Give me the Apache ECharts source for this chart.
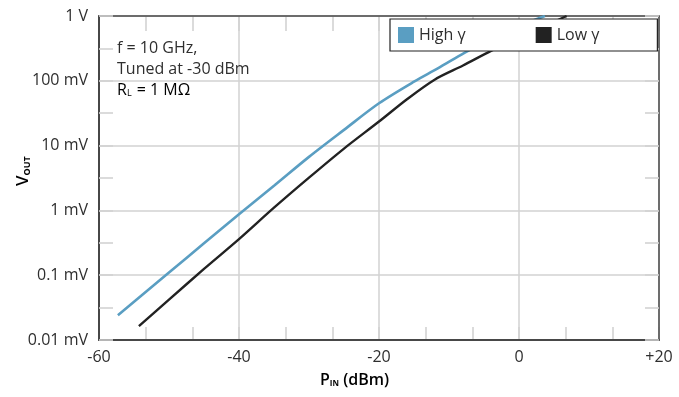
<!DOCTYPE html>
<html>
<head>
<meta charset="utf-8">
<script src="https://cdn.jsdelivr.net/npm/echarts@6/dist/echarts.min.js"></script>
<style>
  html, body { margin: 0; padding: 0; background: #fff; }
  #chart { width: 679px; height: 397px; }
</style>
</head>
<body>
<div id="chart"></div>
<script>
// input power (dBm) and detector output (mV)
const highPin = [-57.3, -50, -45, -40, -35, -30, -25, -20, -15, -11.6, -7.8, -4, 0, 3.7];
const highVout = [0.024, 0.11, 0.31, 0.87, 2.4, 6.7, 17.5, 45, 97, 155, 270, 450, 700, 1000];

const lowPin = [-54.3, -50, -45, -40, -35, -30, -25, -20, -16, -12, -8, -4, 0, 6.8];
const lowVout = [0.0164, 0.042, 0.125, 0.36, 1.1, 3.2, 9.0, 23.5, 52, 105, 172, 290, 460, 1000];

const xTicks = [-60, -40, -20, 0, 20];
const xTickLabels = ['-60', '-40', '-20', '0', '+20'];
const yTicks = [0.01, 0.1, 1, 10, 100, 1000];
const yTickLabels = ['0.01 mV', '0.1 mV', '1 mV', '10 mV', '100 mV', '1 V'];

const seriesNames = ['High \u03b3', 'Low \u03b3'];
const seriesColors = ['#5a9ec2', '#222222'];

const FONT = 'Open Sans';
const TEXT = '#2e2e2e';
const GRID = '#d2d2d2';
const FRAME = '#474747';

const pairs = (xs, ys) => xs.map((x, i) => [x, ys[i]]);

const chart = echarts.init(document.getElementById('chart'), null, { renderer: 'canvas' });

// extra y axes that only carry the half-decade inside ticks on both sides
const yTickOnly = (position, withLine) => ({
  type: 'value',
  gridIndex: 0,
  position,
  min: -2,
  max: 3,
  interval: 0.5,
  axisLine: { show: withLine, onZero: false, lineStyle: { color: FRAME, width: 1.5 } },
  axisTick: { show: true, inside: true, length: 14, lineStyle: { color: GRID, width: 1.6 } },
  axisLabel: { show: false },
  splitLine: { show: false },
});

// thin strips along the top and bottom edge: their split lines are the short x ticks
const xStripAxis = (gridIndex) => ({
  type: 'value',
  gridIndex,
  min: -60,
  max: 20,
  interval: 20 / 3,
  axisLine: { show: false },
  axisTick: { show: false },
  axisLabel: { show: false },
  splitLine: { show: true, showMinLine: false, showMaxLine: false, lineStyle: { color: GRID, width: 1.6 } },
});
const yStripAxis = (gridIndex) => ({
  type: 'value',
  gridIndex,
  min: 0,
  max: 1,
  show: false,
  splitLine: { show: false },
});

const option = {
  animation: false,
  backgroundColor: '#fff',
  textStyle: { fontFamily: FONT },
  grid: [
    { left: 99, right: 20, top: 16, bottom: 57, containLabel: false },
    { left: 99, right: 20, top: 16, height: 15, containLabel: false },
    { left: 99, right: 20, top: 327, height: 13, containLabel: false },
  ],
  legend: {
    left: 390,
    top: 19,
    icon: 'rect',
    itemWidth: 16,
    itemHeight: 16,
    itemGap: 70,
    padding: [8, 58, 8, 8],
    backgroundColor: '#fff',
    borderColor: '#222',
    borderWidth: 1.2,
    borderRadius: 0,
    textStyle: { fontFamily: FONT, fontSize: 16, color: TEXT },
    data: seriesNames,
  },
  xAxis: [
    {
      type: 'value',
      gridIndex: 0,
      position: 'bottom',
      min: -60,
      max: 20,
      interval: 20,
      axisLine: { show: true, onZero: false, lineStyle: { color: FRAME, width: 2 } },
      axisTick: { show: false },
      axisLabel: {
        margin: 9,
        fontFamily: FONT,
        fontSize: 16,
        color: TEXT,
        formatter: (v) => xTickLabels[xTicks.indexOf(v)] ?? '',
      },
      splitLine: { show: true, lineStyle: { color: GRID, width: 1.5 } },
    },
    {
      type: 'value',
      gridIndex: 0,
      position: 'top',
      min: -60,
      max: 20,
      interval: 20,
      axisLine: { show: true, onZero: false, lineStyle: { color: FRAME, width: 1.5 } },
      axisTick: { show: false },
      axisLabel: { show: false },
      splitLine: { show: false },
    },
    xStripAxis(1),
    xStripAxis(2),
  ],
  yAxis: [
    {
      type: 'log',
      gridIndex: 0,
      logBase: 10,
      position: 'left',
      min: 0.01,
      max: 1000,
      axisLine: { show: true, onZero: false, lineStyle: { color: FRAME, width: 2 } },
      axisTick: { show: false },
      axisLabel: {
        margin: 11,
        fontFamily: FONT,
        fontSize: 16,
        color: TEXT,
        formatter: (v) => {
          const i = yTicks.findIndex((t) => Math.abs(Math.log10(t) - Math.log10(v)) < 1e-6);
          return i >= 0 ? yTickLabels[i] : '';
        },
      },
      splitLine: { show: true, lineStyle: { color: GRID, width: 1.5 } },
    },
    yTickOnly('left', false),
    yTickOnly('right', true),
    yStripAxis(1),
    yStripAxis(2),
  ],
  graphic: [
    {
      type: 'text', left: 117, top: 40, z: 10,
      style: { text: 'f = 10 GHz,', font: `16px "${FONT}"`, fill: TEXT },
    },
    {
      type: 'text', left: 117, top: 61, z: 10,
      style: { text: 'Tuned at -30 dBm', font: `16px "${FONT}"`, fill: TEXT },
    },
    {
      type: 'text', left: 117, top: 82, z: 10,
      style: {
        text: '{a|R}{s|L}{a| = 1 M\u03a9}',
        rich: {
          a: { fontFamily: FONT, fontSize: 16, color: TEXT, lineHeight: 20, verticalAlign: 'bottom' },
          s: { fontFamily: FONT, fontSize: 9, color: TEXT, lineHeight: 20, verticalAlign: 'bottom', padding: [0, 1, 0, 0] },
        },
      },
    },
    {
      type: 'text', x: 12, y: 186, rotation: Math.PI / 2, z: 10,
      style: {
        text: '{v|V}{s|OUT}',
        rich: {
          v: { fontFamily: FONT, fontSize: 17, fontWeight: 600, color: TEXT, lineHeight: 20, verticalAlign: 'bottom' },
          s: { fontFamily: FONT, fontSize: 9, fontWeight: 700, color: TEXT, lineHeight: 18, verticalAlign: 'bottom' },
        },
      },
    },
    {
      type: 'text', left: 320, top: 372, z: 10,
      style: {
        text: '{p|P}{s|IN}{p| (dBm)}',
        rich: {
          p: { fontFamily: FONT, fontSize: 16, fontWeight: 600, color: TEXT, lineHeight: 20, verticalAlign: 'bottom' },
          s: { fontFamily: FONT, fontSize: 8, fontWeight: 700, color: TEXT, lineHeight: 18, verticalAlign: 'bottom' },
        },
      },
    },
  ],
  series: [
    {
      name: seriesNames[0],
      type: 'line',
      xAxisIndex: 0,
      yAxisIndex: 0,
      data: pairs(highPin, highVout),
      smooth: 0.3,
      showSymbol: false,
      color: seriesColors[0],
      lineStyle: { width: 2.6, color: seriesColors[0] },
      clip: true,
    },
    {
      name: seriesNames[1],
      type: 'line',
      xAxisIndex: 0,
      yAxisIndex: 0,
      data: pairs(lowPin, lowVout),
      smooth: 0.3,
      showSymbol: false,
      color: seriesColors[1],
      lineStyle: { width: 2.4, color: seriesColors[1] },
      clip: true,
    },
  ],
};

chart.setOption(option);
</script>
</body>
</html>
